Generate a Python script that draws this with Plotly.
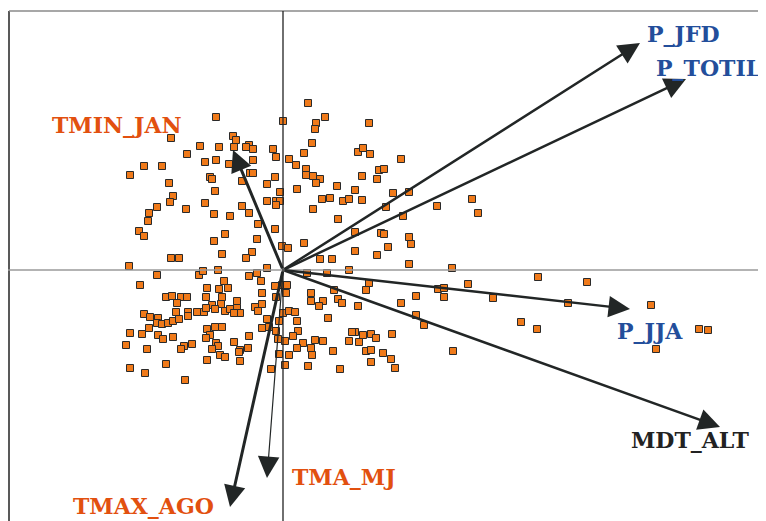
import plotly.graph_objects as go

# Observation scores on the first two components (units: hundredths)
score_x = [25, -67, 0, 33, 42, 86, 32, -112, -50, -47, 29, -83, -64, -49, -34, -37, -30, -10, 75, 80,
           87, -96, 21, -7, 6, -67, -30, -78, -54, 13, -139, -121, 23, 96, -153, -73, -71, -33, -30, 23,
           30, 37, -8, 79, 94, -114, -41, 33, -16, 54, -68, -3, 14, 72, -110, -113, -126, -78, -97, -41,
           -16, -7, -3, -7, 39, 47, 60, 66, 79, -69, -53, -34, 30, -134, -135, 55, -25, -8, -144, -139,
           -58, -69, -26, 21, 72, -1, 5, -31, 72, 94, 98, -61, -112, -104, -37, 37, 49,
           118, 101, 110, 126, 103, 154, 189, 195, 120, 101, 126, 128, 105, 126, 169, 86, 83, 255, 304,
           185, 155, 161, 161, 133, 118, 75, 210, 285, 368, 133, 141, 238, 254, 416, 425, 373, 80, 88,
           93, 109, 76, 83, 88, 100, 108, 88, 112, 170, 72,
           -154, -126, -84, -80, -65, -34, -26, -16, -143, -59, -76, -64, -55, -22, -8, -1, 4, -117,
           -111, -102, -96, -77, -61, -21, -7, 3, -106, -71, -62, -46, -21, -28, 28, 28, 40, 36, 51, 55,
           59, -139, -133, -125, -126, -121, -115, -110, -107, -104, -95, -95, -86, -79, -77, -68, -58,
           -53, -46, -43, -49, -25, -16, 0, 6, 12, 14, -4, -21, -14, -7, 15, 10, 2, -5, 20, 32, 40, 45,
           69, 66, -134, -153, -141, -125, -120, -110, -76, -68, -61, -73, -77, -34, -49, -67, -65, -71,
           -91, -99, -102, -43, -44, -35, -157, -136, 14, 28, 50, -76, -63, -58, -43, -4, 6, 29, -117,
           -153, -138, -98, -12, 2, 25, 57, 24, 44, 66]
score_y = [167, 153, 149, 147, 153, 147, 141, 132, 134, 130, 127, 124, 123, 123, 125, 123, 121, 121, 118, 122,
           116, 116, 117, 113, 111, 110, 110, 108, 106, 105, 104, 104, 101, 100, 95, 93, 91, 97, 97, 95,
           94, 91, 93, 94, 91, 87, 89, 87, 86, 84, 79, 78, 81, 80, 74, 68, 63, 67, 61, 64,
           69, 69, 69, 65, 71, 72, 69, 71, 70, 56, 54, 57, 61, 57, 49, 51, 46, 41, 39, 34,
           36, 29, 31, 27, 38, 24, 22, 18, 19, 15, 37, 16, 12, 12, 12, 11, 11,
           111, 101, 77, 78, 63, 64, 71, 57, 54, 36, 33, 26, 23, 6, 2, -13, -20, -7, -12,
           -14, -19, -18, -27, -26, -33, -36, -28, -33, -35, -45, -55, -52, -59, -59, -60, -79, -65, -64,
           -68, -64, -72, -81, -80, -83, -89, -92, -98, -81, -62,
           4, -5, -5, -1, 0, -6, -3, 2, -15, -11, -18, -19, -18, -11, -16, -15, -15, -27,
           -26, -27, -27, -27, -27, -23, -27, -23, -33, -35, -34, -31, -34, -37, -23, -31, -31, -36, -20, -29,
           -33, -44, -47, -48, -53, -54, -53, -51, -42, -49, -42, -46, -42, -42, -38, -39, -41,
           -39, -38, -43, -43, -41, -49, -43, -41, -42, -51, -51, -58, -57, -61, -61, -66, -71, -69, -73, -70, -71, -48,
           -62, -71, -58, -63, -64, -65, -69, -67, -59, -57, -57, -65, -68, -66, -72, -73, -76, -79,
           -74, -76, -79, -80, -82, -78, -75, -79, -78, -78, -81, -90, -85, -87, -91, -84, -85, -85, -94,
           -98, -103, -110, -99, -95, -96, -99, -3, -3, 0]

# Variable loadings (arrow tips, same units)
variables = ["P_JFD", "P_TOTIL", "P_JJA", "MDT_ALT", "TMA_MJ", "TMAX_AGO", "TMIN_JAN"]
load_x = [357, 403, 347, 437, -16, -53, -50]
load_y = [227, 191, -39, -157, -208, -237, 120]

# Styles / label placement (not data)
label_colors = ["#234E9B", "#234E9B", "#234E9B", "#222222", "#E2500F", "#E2500F", "#E2500F"]
label_pos = [(362, 236, "left"), (371, 202, "left"), (367, -61, "center"), (407, -170, "center"),
             (7, -207, "left"), (-140, -236, "center"), (-166, 145, "center")]
arrow_widths = [2.5, 2.5, 2.5, 2.5, 1.2, 3.0, 3.0]

fig = go.Figure()

fig.add_trace(go.Scatter(
    x=score_x, y=score_y, mode="markers",
    marker=dict(symbol="square", size=7, color="#F07A1A",
                line=dict(color="#2A2A2A", width=1)),
    hoverinfo="skip", showlegend=False))

shapes = [
    # frame
    dict(type="line", x0=-274, x1=-274, y0=259, y1=-260, line=dict(color="#222222", width=1.5)),
    dict(type="line", x0=-274, x1=490, y0=259, y1=259, line=dict(color="#8A8A8A", width=1.5)),
    # zero axes
    dict(type="line", x0=-276, x1=490, y0=0, y1=0, line=dict(color="#9A9A9A", width=1.5)),
    dict(type="line", x0=0, x1=0, y0=259, y1=-260, line=dict(color="#222222", width=1.3)),
]

annotations = []
for name, tx, ty, col, (lx, ly, anc), w in zip(variables, load_x, load_y, label_colors, label_pos, arrow_widths):
    annotations.append(dict(
        x=tx, y=ty, ax=0, ay=0, xref="x", yref="y", axref="x", ayref="y",
        text="", showarrow=True, arrowhead=2, arrowsize=4.3 / w, arrowwidth=w,
        arrowcolor="#222626"))
    annotations.append(dict(
        x=lx, y=ly, xref="x", yref="y", text="<b>%s</b>" % name, showarrow=False,
        xanchor=anc, yanchor="middle",
        font=dict(family="DejaVu Serif", size=22, color=col)))

# The page body adds an 8 px margin, so the figure is 758x513 placed at (8, 8)
fig.update_layout(
    width=758, height=513, autosize=False,
    margin=dict(l=0, r=0, t=0, b=0),
    paper_bgcolor="white", plot_bgcolor="white",
    xaxis=dict(range=[-275, 483], visible=False, fixedrange=True),
    yaxis=dict(range=[-251, 262], visible=False, fixedrange=True),
    shapes=shapes, annotations=annotations,
)

fig.write_html("out.html")
